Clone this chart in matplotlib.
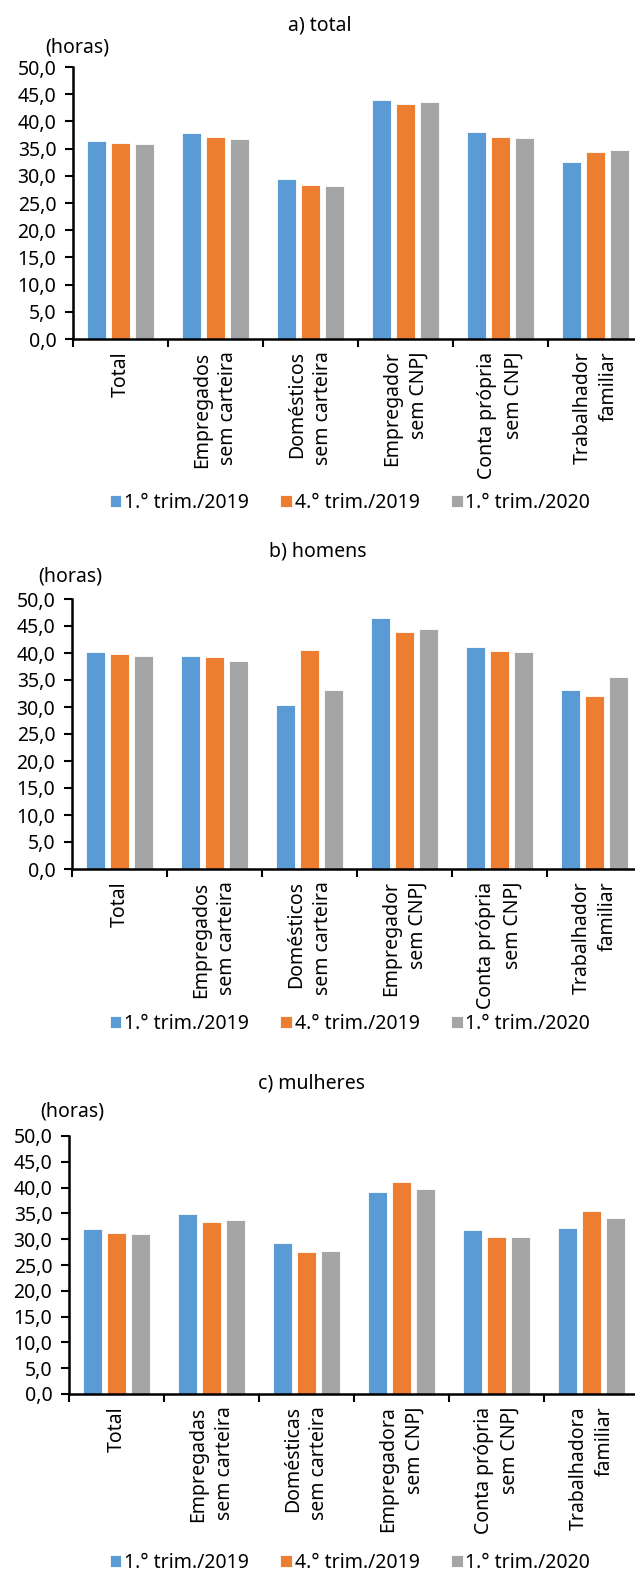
import numpy as np
import matplotlib
matplotlib.use("Agg")
from matplotlib import pyplot as plt
from matplotlib.ticker import FuncFormatter, MultipleLocator

plt.rcParams['font.family'] = ['Noto Sans', 'DejaVu Sans']

series = ['1.° trim./2019', '4.° trim./2019', '1.° trim./2020']
colors = ['#5B9BD5', '#ED7D31', '#A5A5A5']

cats_men = ['Total', 'Empregados\nsem carteira', 'Domésticos\nsem carteira',
            'Empregador\nsem CNPJ', 'Conta própria\nsem CNPJ', 'Trabalhador\nfamiliar']
cats_women = ['Total', 'Empregadas\nsem carteira', 'Domésticas\nsem carteira',
              'Empregadora\nsem CNPJ', 'Conta própria\nsem CNPJ', 'Trabalhadora\nfamiliar']

# hours per panel, one list per quarter
total_q1_19 = [36.4, 37.9, 29.4, 44.0, 38.0, 32.5]
total_q4_19 = [36.1, 37.1, 28.4, 43.2, 37.1, 34.4]
total_q1_20 = [35.8, 36.8, 28.2, 43.5, 37.0, 34.7]

men_q1_19 = [40.1, 39.5, 30.4, 46.4, 41.2, 33.2]
men_q4_19 = [39.8, 39.3, 40.5, 43.8, 40.4, 32.1]
men_q1_20 = [39.4, 38.6, 33.1, 44.5, 40.2, 35.6]

women_q1_19 = [31.9, 34.8, 29.2, 39.1, 31.7, 32.1]
women_q4_19 = [31.2, 33.3, 27.5, 41.0, 30.4, 35.5]
women_q1_20 = [31.0, 33.7, 27.7, 39.7, 30.4, 34.1]

W, H = 635, 1574
fig = plt.figure(figsize=(W / 100, H / 100), dpi=100)

def px(x, y):
    return x / W, 1 - y / H

panels = [
    # title, title pos, horas pos, axes (left, top, bottom), legend y, cats, data
    ('a) total', (320, 25), (45, 47), (73, 67, 339), 503, cats_men,
     [total_q1_19, total_q4_19, total_q1_20]),
    ('b) homens', (318, 551), (38, 577), (72, 599, 869), 1024, cats_men,
     [men_q1_19, men_q4_19, men_q1_20]),
    ('c) mulheres', (312, 1083), (40, 1111), (69, 1136, 1394), 1563, cats_women,
     [women_q1_19, women_q4_19, women_q1_20]),
]

fmt = FuncFormatter(lambda v, p: f'{v:.1f}'.replace('.', ','))
FS = 14

for title, tpos, hpos, (left, top, bottom), leg_y, cats, data in panels:
    ax = fig.add_axes([left / W, 1 - bottom / H, 570 / W, (bottom - top) / H])
    x = np.arange(len(cats))
    handles = []
    for i, vals in enumerate(data):
        b = ax.bar(x + (i - 1) * 0.25, vals, width=0.2, color=colors[i],
                   edgecolor='white', linewidth=0.6, label=series[i])
        handles.append(b)
    ax.set_xlim(-0.5, len(cats) - 0.5)
    ax.set_ylim(0, 50)
    ax.yaxis.set_major_locator(MultipleLocator(5))
    ax.yaxis.set_major_formatter(fmt)
    ax.set_xticks(np.arange(len(cats) + 1) - 0.5)
    ax.set_xticklabels([])
    ax.set_xticks(x, minor=True)
    ax.set_xticklabels(cats, minor=True, rotation=90, ha='center', va='top',
                       multialignment='right', fontsize=FS, linespacing=1.4)
    ax.tick_params(axis='x', which='minor', length=0, pad=9)
    ax.tick_params(axis='x', which='major', length=6, width=1.5, direction='out')
    ax.tick_params(axis='y', length=6, width=1.5, direction='out', labelsize=FS, pad=6)
    for s in ['top', 'right']:
        ax.spines[s].set_visible(False)
    for s in ['left', 'bottom']:
        ax.spines[s].set_linewidth(1.8)
    fig.text(*px(*tpos), title, ha='center', va='center', fontsize=FS)
    fig.text(*px(*hpos), '(horas)', ha='left', va='center', fontsize=FS)
    fig.legend(handles=handles, loc='center', bbox_to_anchor=px(350, leg_y),
               ncol=3, frameon=False, fontsize=FS, handlelength=0.6,
               handleheight=0.6, handletextpad=0.15, columnspacing=1.6)

fig.savefig('out.png', dpi=100)
